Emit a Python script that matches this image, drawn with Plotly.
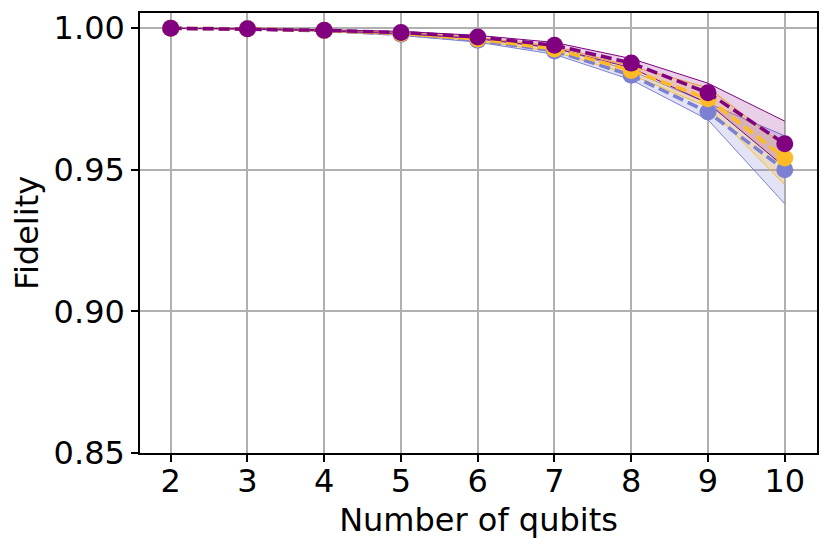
import plotly.graph_objects as go

# ---------- data ----------
qubits = [2, 3, 4, 5, 6, 7, 8, 9, 10]

blue_mean = [1.0, 0.9998, 0.9991, 0.9979, 0.9958, 0.9920, 0.9834, 0.9704, 0.9500]
blue_low = [1.0, 0.9997, 0.9989, 0.9975, 0.9951, 0.9908, 0.9818, 0.9677, 0.9380]
blue_high = [1.0, 0.9999, 0.9993, 0.9983, 0.9965, 0.9932, 0.9850, 0.9735, 0.9620]

gold_mean = [1.0, 0.9998, 0.9992, 0.9982, 0.9962, 0.9927, 0.9851, 0.9751, 0.9542]
gold_low = [1.0, 0.9997, 0.9990, 0.9978, 0.9956, 0.9917, 0.9836, 0.9722, 0.9448]
gold_high = [1.0, 0.9999, 0.9994, 0.9986, 0.9968, 0.9937, 0.9866, 0.9790, 0.9585]

purple_mean = [1.0, 0.9998, 0.9993, 0.9985, 0.9969, 0.9940, 0.9877, 0.9772, 0.9592]
purple_low = [1.0, 0.9997, 0.9991, 0.9981, 0.9963, 0.9930, 0.9860, 0.9735, 0.9510]
purple_high = [1.0, 0.9999, 0.9995, 0.9989, 0.9975, 0.9950, 0.9893, 0.9806, 0.9672]

series = [
    ("blue", blue_mean, blue_low, blue_high, "#7c80d2", "rgba(124,128,210,0.22)"),
    ("gold", gold_mean, gold_low, gold_high, "#ffbb26", "rgba(255,187,38,0.22)"),
    ("purple", purple_mean, purple_low, purple_high, "#800080", "rgba(128,0,128,0.18)"),
]

fig = go.Figure()

# bands (shaded spread with thin edges)
for name, mean, low, high, col, fillcol in series:
    fig.add_trace(go.Scatter(x=qubits, y=low, mode="lines",
                             line=dict(color=col, width=1), showlegend=False,
                             hoverinfo="skip"))
    fig.add_trace(go.Scatter(x=qubits, y=high, mode="lines", fill="tonexty",
                             fillcolor=fillcol, line=dict(color=col, width=1),
                             showlegend=False, hoverinfo="skip"))

# mean curves
for name, mean, low, high, col, fillcol in series:
    fig.add_trace(go.Scatter(x=qubits, y=mean, mode="lines+markers", name=name,
                             line=dict(color=col, width=3.5, dash="11px,5px"),
                             marker=dict(color=col, size=17),
                             showlegend=False))

# page body has an 8px margin, so the figure is 8px smaller and offset
fig.update_layout(
    width=823, height=545,
    margin=dict(l=132, r=14, t=5, b=100),
    paper_bgcolor="white", plot_bgcolor="white",
    font=dict(family="DejaVu Sans", size=32, color="black"),
    showlegend=False,
)
fig.update_xaxes(
    range=[1.6, 10.42], tickvals=qubits, ticktext=[str(q) for q in qubits],
    showgrid=True, gridcolor="#b0b0b0", gridwidth=1.5,
    showline=True, linecolor="black", linewidth=1.5, mirror=True,
    ticks="outside", ticklen=7, tickwidth=1.5, tickcolor="black",
    ticklabelstandoff=-8,
    zeroline=False, automargin=False,
    title=dict(text="Number of qubits", font=dict(size=32), standoff=9),
)
fig.update_yaxes(
    range=[0.85, 1.0054], tickvals=[0.85, 0.90, 0.95, 1.00],
    ticktext=["0.85", "0.90", "0.95", "1.00"],
    showgrid=True, gridcolor="#b0b0b0", gridwidth=1.5,
    showline=True, linecolor="black", linewidth=1.5, mirror=True,
    ticks="outside", ticklen=7, tickwidth=1.5, tickcolor="black",
    zeroline=False, automargin=False,
    title=dict(text="Fidelity", font=dict(size=32), standoff=8),
)

fig.write_html("out.html")
